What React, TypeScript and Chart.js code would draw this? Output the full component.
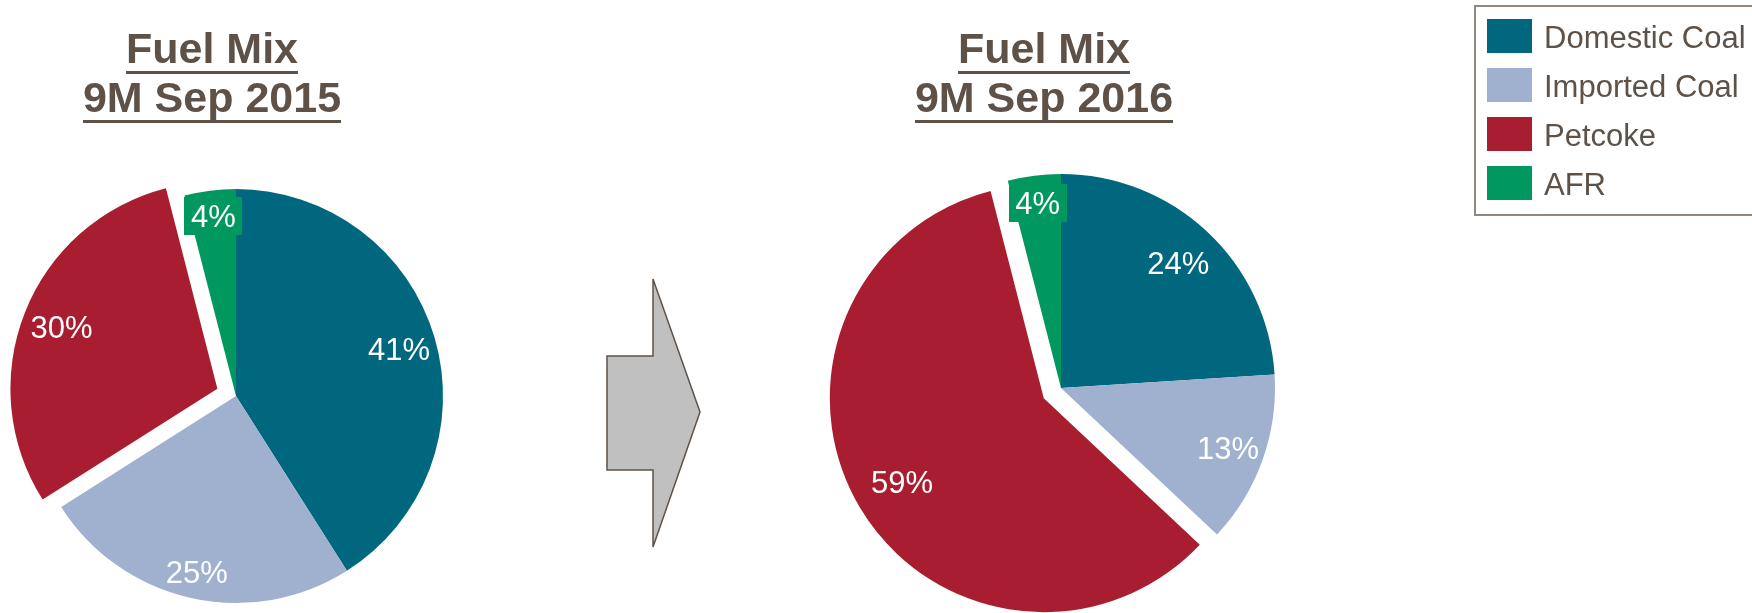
import React, { useEffect, useRef } from 'react';
import { Chart, registerables } from 'chart.js';

Chart.register(...registerables);

// ---- data ----
const categories = ['Domestic Coal', 'Imported Coal', 'Petcoke', 'AFR'];
const mix2015 = [41, 25, 30, 4];
const mix2016 = [24, 13, 59, 4];
const title2015 = ['Fuel Mix', '9M Sep 2015'];
const title2016 = ['Fuel Mix', '9M Sep 2016'];

// ---- styles ----
const sliceColors = ['#00677f', '#9fb1cf', '#a81e30', '#00985f'];
const textColor = '#5e5248';
const FONT = '"Liberation Sans", Arial, Helvetica, sans-serif';

function makeExplodePlugin(offsets: number[]) {
  return {
    id: 'explodeSlices',
    afterDatasetUpdate(chart: any, args: any) {
      args.meta.data.forEach((arc: any, i: number) => {
        const o = offsets[i] || 0;
        if (!o) return;
        const mid = (arc.startAngle + arc.endAngle) / 2;
        arc.x += Math.cos(mid) * o;
        arc.y += Math.sin(mid) * o;
      });
    },
  };
}

function makeLabelPlugin(radial: number[], boxed: boolean[], size: number) {
  return {
    id: 'sliceLabels',
    afterDatasetsDraw(chart: any) {
      const ctx = chart.ctx;
      const meta = chart.getDatasetMeta(0);
      const ds = chart.data.datasets[0];
      ctx.save();
      ctx.font = `${size}px ${FONT}`;
      ctx.textAlign = 'center';
      ctx.textBaseline = 'alphabetic';
      meta.data.forEach((arc: any, i: number) => {
        const mid = (arc.startAngle + arc.endAngle) / 2;
        const r = arc.outerRadius * radial[i];
        const x = arc.x + Math.cos(mid) * r;
        const y = arc.y + Math.sin(mid) * r;
        const text = `${ds.data[i]}%`;
        if (boxed[i]) {
          const w = ctx.measureText(text).width + 13;
          const h = 38;
          ctx.fillStyle = ds.backgroundColor[i];
          ctx.fillRect(Math.round(x - w / 2), Math.round(y - h / 2), Math.round(w), h);
        }
        ctx.fillStyle = '#ffffff';
        ctx.fillText(text, x, y + size * 0.358);
      });
      ctx.restore();
    },
  };
}

function makeTitlePlugin(lines: string[], x: number, baselines: number[]) {
  return {
    id: 'underlinedTitle',
    afterDraw(chart: any) {
      const ctx = chart.ctx;
      ctx.save();
      ctx.font = `bold 43px ${FONT}`;
      ctx.fillStyle = textColor;
      ctx.textAlign = 'center';
      ctx.textBaseline = 'alphabetic';
      lines.forEach((line, i) => {
        const y = baselines[i];
        ctx.fillText(line, x, y);
        const w = ctx.measureText(line).width;
        ctx.fillRect(Math.round(x - w / 2), y + 8, Math.round(w), 3);
      });
      ctx.restore();
    },
  };
}

type PieProps = {
  values: number[];
  title: string[];
  left: number;
  width: number;
  padding: { left: number; right: number; top: number; bottom: number };
  radius: number;
  titleX: number;
  explode: number[];
  radial: number[];
  boxed: boolean[];
};

function PieChart(p: PieProps) {
  const ref = useRef<HTMLCanvasElement | null>(null);
  useEffect(() => {
    if (!ref.current) return;
    const chart = new Chart(ref.current, {
      type: 'pie',
      data: {
        labels: categories,
        datasets: [
          {
            data: p.values,
            backgroundColor: sliceColors,
            borderWidth: 0,
            radius: p.radius,
            clip: false,
          } as any,
        ],
      },
      options: {
        responsive: false,
        animation: false,
        events: [],
        radius: p.radius,
        layout: { padding: p.padding },
        plugins: {
          legend: { display: false },
          tooltip: { enabled: false },
          title: { display: false },
        },
      } as any,
      plugins: [
        makeExplodePlugin(p.explode),
        makeLabelPlugin(p.radial, p.boxed, 31),
        makeTitlePlugin(p.title, p.titleX, [63, 112]),
      ],
    });
    return () => chart.destroy();
  }, []);
  return (
    <canvas
      ref={ref}
      width={p.width}
      height={613}
      style={{ position: 'absolute', left: p.left, top: 0, width: p.width, height: 613 }}
    />
  );
}

const legendRowsTop = [19, 68, 117, 166];

export default function App() {
  return (
    <div
      style={{
        position: 'absolute',
        left: 0,
        top: 0,
        width: 1752,
        height: 613,
        overflow: 'hidden',
        background: '#ffffff',
      }}
    >
      <PieChart
        values={mix2015}
        title={title2015}
        left={0}
        width={520}
        padding={{ left: 0, right: 48, top: 179, bottom: 0 }}
        radius={207}
        titleX={212}
        explode={[0, 0, 20, 0]}
        radial={[0.82, 0.87, 0.81, 0.875]}
        boxed={[false, false, false, true]}
      />
      <svg
        width={1752}
        height={613}
        style={{ position: 'absolute', left: 0, top: 0, pointerEvents: 'none' }}
      >
        <polygon
          points="607,356 653,356 653,279 700,412 653,547 653,470 607,470"
          fill="#c0c0c0"
          stroke="#5e5248"
          strokeWidth={1.5}
        />
      </svg>
      <PieChart
        values={mix2016}
        title={title2016}
        left={740}
        width={560}
        padding={{ left: 82, right: 0, top: 163, bottom: 0 }}
        radius={214}
        titleX={304}
        explode={[0, 0, 20, 0]}
        radial={[0.8, 0.83, 0.77, 0.87]}
        boxed={[false, false, false, true]}
      />
      <div
        style={{
          position: 'absolute',
          left: 1474,
          top: 5,
          width: 320,
          height: 211,
          border: '2px solid #8f8780',
          boxSizing: 'border-box',
        }}
      />
      {categories.map((c, i) => (
        <React.Fragment key={c}>
          <div
            style={{
              position: 'absolute',
              left: 1487,
              top: legendRowsTop[i],
              width: 45,
              height: 34,
              background: sliceColors[i],
            }}
          />
          <div
            style={{
              position: 'absolute',
              left: 1544,
              top: legendRowsTop[i] + 2,
              height: 34,
              lineHeight: '34px',
              fontSize: 31,
              fontFamily: FONT,
              color: textColor,
              whiteSpace: 'nowrap',
            }}
          >
            {c}
          </div>
        </React.Fragment>
      ))}
    </div>
  );
}
